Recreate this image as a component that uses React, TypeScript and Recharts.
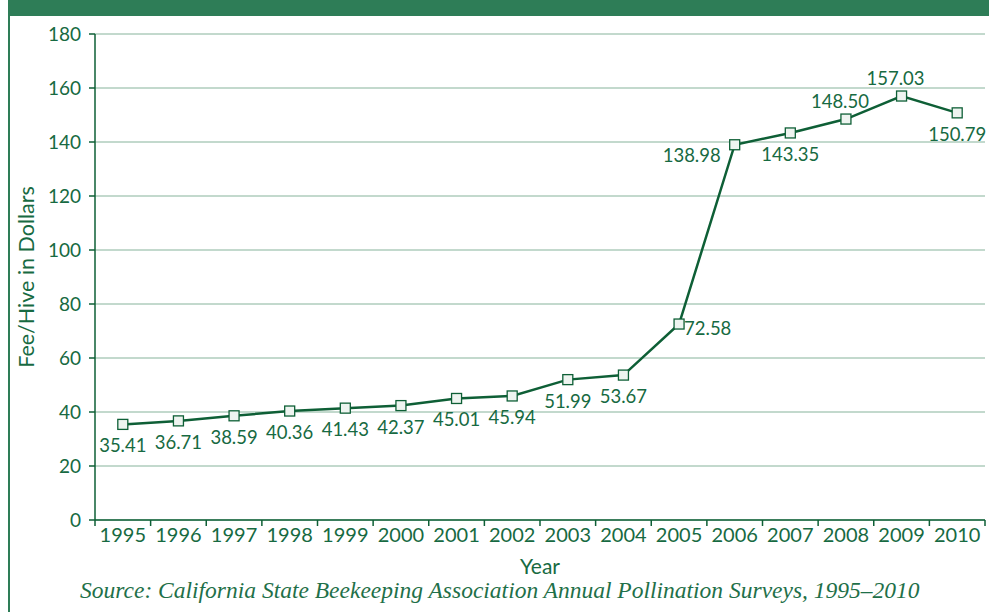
import { CartesianGrid, Line, LineChart, XAxis, YAxis } from 'recharts';

const years = ['1995', '1996', '1997', '1998', '1999', '2000', '2001', '2002', '2003', '2004', '2005', '2006', '2007', '2008', '2009', '2010'];
const fees = [35.41, 36.71, 38.59, 40.36, 41.43, 42.37, 45.01, 45.94, 51.99, 53.67, 72.58, 138.98, 143.35, 148.5, 157.03, 150.79];
const labelSide = ['below', 'below', 'below', 'below', 'below', 'below', 'below', 'below', 'below', 'below', 'right', 'left', 'below', 'above', 'above', 'below'];
const yTicks = [0, 20, 40, 60, 80, 100, 120, 140, 160, 180];

const data = years.map((year, i) => ({ year, fee: fees[i] }));

const GREEN = '#2e7d57';
const LINE = '#0e5f36';
const TEXT = '#176a42';
const FONT = 'Lato, "Open Sans", sans-serif';

const PLOT_LEFT = 95;
const PLOT_RIGHT = 985;
const PLOT_BOTTOM = 520;
const BAND = (PLOT_RIGHT - PLOT_LEFT) / years.length;

function YearTick(props: any) {
    const { x, y, payload, index } = props;
    const last = index === years.length - 1;
    return (
        <g>
            <line x1={x - BAND / 2} x2={x - BAND / 2} y1={PLOT_BOTTOM} y2={PLOT_BOTTOM + 6} stroke={LINE} strokeWidth={1.5} />
            {last && <line x1={x + BAND / 2} x2={x + BAND / 2} y1={PLOT_BOTTOM} y2={PLOT_BOTTOM + 6} stroke={LINE} strokeWidth={1.5} />}
            <text x={x} y={y} dy={14} textAnchor="middle" fill={TEXT} fontSize={20} fontFamily={FONT}>{payload.value}</text>
        </g>
    )
}

function SquareDot(props: any) {
    const { cx, cy } = props;
    if (cx == null || cy == null) return null;
    return <rect x={cx - 5} y={cy - 5} width={10} height={10} fill="#eef4f0" stroke={LINE} strokeWidth={1.3} />
}

function ValueLabel(props: any) {
    const { x, y, index, value } = props;
    const side = labelSide[index];
    let dx = 0, dy = 21, anchor = 'middle';
    if (side === 'right') { dx = 5; dy = 4; anchor = 'start'; }
    if (side === 'left') { dx = -14; dy = 10; anchor = 'end'; }
    if (side === 'above') { dx = -6; dy = -18; }
    return (
        <text x={x + dx} y={y + dy} textAnchor={anchor} dominantBaseline="central" fill={TEXT} fontSize={18.5} fontFamily={FONT}>
            {Number(value).toFixed(2)}
        </text>
    )
}

export default function App() {
    return (
        <div style={{ position: 'absolute', left: 0, top: 0, width: 989, height: 612, background: 'white', overflow: 'hidden' }}>
            <div style={{ position: 'absolute', left: 8, top: 0, width: 981, height: 16, background: GREEN }} />
            <div style={{ position: 'absolute', left: 8, top: 0, width: 2, height: 612, background: GREEN }} />
            <LineChart
                width={989}
                height={612}
                data={data}
                margin={{ top: 34, right: 4, left: 0, bottom: 32 }}
                style={{ position: 'absolute', left: 0, top: 0 }}
            >
                <CartesianGrid vertical={false} stroke="#86b39b" strokeWidth={1} />
                <XAxis
                    dataKey="year"
                    scale="band"
                    height={60}
                    tickLine={false}
                    axisLine={{ stroke: LINE, strokeWidth: 1.5 }}
                    tick={<YearTick />}
                    interval={0}
                    label={{ value: 'Year', position: 'insideBottom', offset: 6, fill: TEXT, fontSize: 21, fontFamily: FONT }}
                />
                <YAxis
                    width={95}
                    domain={[0, 180]}
                    ticks={yTicks}
                    tickSize={6}
                    tickMargin={8}
                    axisLine={{ stroke: LINE, strokeWidth: 1.5 }}
                    tickLine={{ stroke: LINE, strokeWidth: 1.5 }}
                    tick={{ fill: TEXT, fontSize: 19, fontFamily: FONT }}
                    label={{ value: 'Fee/Hive in Dollars', angle: -90, position: 'insideLeft', offset: 26, style: { textAnchor: 'middle' }, fill: TEXT, fontSize: 21.5, fontFamily: FONT }}
                />
                <Line
                    type="linear"
                    dataKey="fee"
                    stroke={LINE}
                    strokeWidth={2.5}
                    dot={<SquareDot />}
                    activeDot={false}
                    label={<ValueLabel />}
                    isAnimationActive={false}
                />
            </LineChart>
            <div style={{ position: 'absolute', left: 80, top: 577, fontFamily: '"Liberation Serif", serif', fontStyle: 'italic', fontSize: 23.5, color: '#1f7049', whiteSpace: 'nowrap' }}>
                Source: California State Beekeeping Association Annual Pollination Surveys, 1995–2010
            </div>
        </div>
    )
}
